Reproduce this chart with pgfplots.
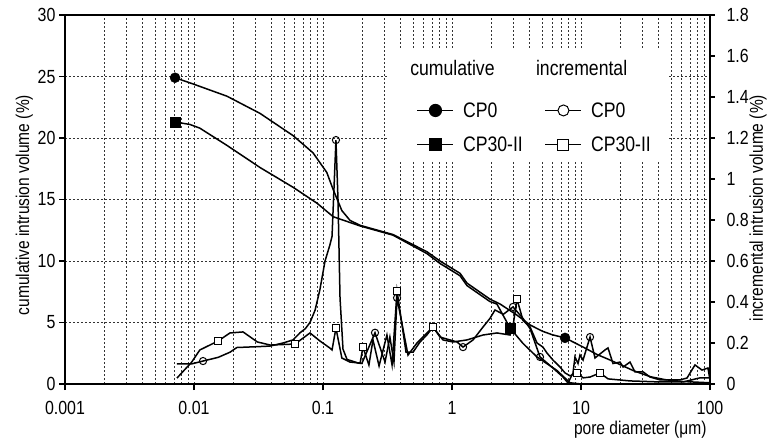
\documentclass[border=0pt]{standalone}
\usepackage{fontspec}
\setmainfont{Liberation Sans}[FakeStretch=0.84]
\usepackage{pgfplots}
\pgfplotsset{compat=1.18}

\pgfplotstableread{
x y
0.00713 24.9
0.0098 24.4
0.018 23.4
0.0325 22.0
0.0585 20.2
0.0836 18.8
0.107 17.2
0.12 15.8
0.14 14.1
0.162 13.3
0.194 12.9
0.349 12.15
0.64 10.75
0.807 10.0
1.154 9.0
1.307 8.2
1.97 6.9
2.36 6.5
3.19 5.6
4.03 4.8
5.0 4.3
6.0 4.0
7.52 3.75
10.4 3.0
13.3 2.4
16.8 1.95
25.3 1.1
34.3 0.6
45 0.35
61.8 0.2
100 0.1
}\cumA

\pgfplotstableread{
x y
0.00713 21.3
0.0093 21.1
0.0111 20.8
0.018 19.4
0.0325 17.6
0.0585 16.0
0.0898 14.7
0.12 13.6
0.194 12.85
0.349 12.1
0.64 10.6
0.807 9.8
1.154 8.8
1.307 8.0
1.97 6.7
2.23 6.5
2.82 4.55
3.55 3.3
4.56 2.2
6.51 1.1
8.22 0.1
10 0.0
100 0.0
}\cumB

\pgfplotstableread{
x y
0.00738 0.098
0.0096 0.098
0.01175 0.112
0.0154 0.13
0.019 0.155
0.0215 0.178
0.0308 0.182
0.0388 0.185
0.049 0.2
0.0585 0.215
0.0664 0.25
0.073 0.27
0.0793 0.3
0.0868 0.36
0.0946 0.46
0.1037 0.6
0.1133 0.68
0.1175 0.72
0.126 1.19
0.1307 0.9
0.1355 0.42
0.1429 0.17
0.1535 0.12
0.188 0.102
0.2 0.1
0.253 0.25
0.3026 0.107
0.33 0.229
0.355 0.107
0.375 0.42
0.456 0.141
0.535 0.2
0.585 0.224
0.713 0.278
0.807 0.229
0.964 0.215
1.094 0.205
1.217 0.18
1.456 0.215
1.74 0.278
1.97 0.32
2.155 0.361
2.5 0.34
2.97 0.376
3.55 0.32
4.03 0.27
4.81 0.132
6.06 0.078
7.25 0.034
7.93 0.005
8.67 0.054
8.98 0.132
9.48 0.1
9.82 0.141
10.37 0.117
11.75 0.229
12.84 0.127
15.35 0.166
16.19 0.176
17.7 0.1
20.06 0.107
21.2 0.083
24 0.107
26.2 0.059
30.3 0.059
34.3 0.034
41 0.02
58.5 0.02
66.3 0.029
76.5 0.093
86.7 0.068
96.4 0.078
100 0.02
}\incA

\pgfplotstableread{
x y
0.00738 0.029
0.0096 0.107
0.0111 0.166
0.0154 0.21
0.019 0.249
0.024 0.254
0.031 0.205
0.039 0.19
0.0607 0.195
0.0793 0.249
0.0946 0.21
0.1133 0.175
0.1175 0.166
0.126 0.273
0.14 0.127
0.162 0.107
0.194 0.102
0.204 0.18
0.227 0.093
0.244 0.215
0.272 0.088
0.313 0.239
0.343 0.093
0.375 0.454
0.44 0.156
0.5 0.156
0.565 0.205
0.64 0.24
0.713 0.278
0.851 0.215
1.018 0.205
1.307 0.215
1.74 0.239
2.23 0.249
2.82 0.239
3.0 0.3
3.19 0.415
3.55 0.31
4.03 0.278
4.56 0.2
5.07 0.18
5.45 0.151
6.06 0.117
6.87 0.083
7.52 0.054
8.22 0.04
9.31 0.054
10.4 0.03
11.75 0.034
14.04 0.054
16.2 0.025
24 0.015
41 0.01
62 0.01
83.6 0.03
100 0.03
}\incB

\begin{document}
\begin{tikzpicture}
\useasboundingbox (-65pt,-57pt) rectangle (702pt,384pt);
\begin{axis}[
  scale only axis, width=645pt, height=369pt, at={(0pt,0pt)}, anchor=south west,
  xmode=log, xmin=0.001, xmax=100,
  tick align=outside, major tick length=6pt, minor tick length=0pt,
  major tick style={black, line width=1.2pt},
  tick label style={font=\fontsize{19}{22}\selectfont},
  label style={font=\fontsize{18.5}{21}\selectfont},
  ymin=0, ymax=30, ytick={0,5,10,15,20,25,30},
  xtick={0.001,0.01,0.1,1,10,100},
  xticklabels={0.001,0.01,0.1,1,10,100},
  xticklabel style={yshift=-8pt},
  minor xtick={0.002,0.003,0.004,0.005,0.006,0.007,0.008,0.009,
    0.02,0.03,0.04,0.05,0.06,0.07,0.08,0.09,
    0.2,0.3,0.4,0.5,0.6,0.7,0.8,0.9,
    2,3,4,5,6,7,8,9,20,30,40,50,60,70,80,90},
  xtick pos=bottom, ytick pos=left,
  xmajorgrids, xminorgrids, ymajorgrids,
  major grid style={black!80, line width=0.6pt, dash pattern=on 2pt off 2pt},
  minor grid style={black!80, line width=0.6pt, dash pattern=on 2pt off 2pt},
  axis line style={black, line width=1.7pt},
  ylabel={cumulative intrusion volume (\%)},
  ylabel style={at={(axis description cs:-0.063,0.485)}, anchor=center},
  xlabel={pore diameter (μm)},
  xlabel style={at={(axis description cs:1,-0.124)}, anchor=east},
  yticklabel style={/pgf/number format/assume math mode=true},
]
\addplot[black, line width=1.5pt, no marks] table {\cumA};
\addplot[black, line width=1.5pt, no marks] table {\cumB};
\addplot[only marks, mark=*, mark size=5pt, black] coordinates {(0.00713,24.9) (7.52,3.75)};
\addplot[only marks, mark=square*, mark size=5.3pt, black] coordinates {(0.00713,21.3) (2.82,4.55)};
\fill[white] (axis description cs:0.499,0.905) rectangle (axis description cs:0.934,0.602);
\node[anchor=west, inner sep=0pt, font=\fontsize{21}{24}\selectfont] at (axis description cs:0.535,0.856) {cumulative};
\node[anchor=west, inner sep=0pt, font=\fontsize{21}{24}\selectfont] at (axis description cs:0.730,0.856) {incremental};
\end{axis}

\begin{axis}[
  scale only axis, width=645pt, height=369pt, at={(0pt,0pt)}, anchor=south west,
  xmode=log, xmin=0.001, xmax=100,
  tick align=outside, major tick length=5pt, minor tick length=0pt,
  major tick style={black, line width=1.2pt},
  tick label style={font=\fontsize{19}{22}\selectfont},
  label style={font=\fontsize{18.5}{21}\selectfont},
  ymin=0, ymax=1.8, ytick={0,0.2,0.4,0.6,0.8,1,1.2,1.4,1.6,1.8},
  hide x axis, axis y line*=right, ytick pos=right,
  yticklabel style={xshift=8pt, /pgf/number format/assume math mode=true},
  y axis line style={black, line width=1.7pt},
  ylabel={incremental intrusion volume (\%)},
  ylabel style={at={(axis description cs:1.0744,0.477)}, anchor=center},
  legend columns=2,
  legend style={at={(axis description cs:0.539,0.780)}, anchor=north west, draw=none, fill=none,
    font=\fontsize{21}{24}\selectfont, inner xsep=4pt, inner ysep=4pt, cells={anchor=west},
    /tikz/every odd column/.append style={column sep=7pt},
    /tikz/every even column/.append style={column sep=20pt}, row sep=14pt},
  legend image code/.code={\draw[mark repeat=2,mark phase=2,#1] plot coordinates {(0pt,0pt) (18pt,0pt) (36pt,0pt)};},
]
\addplot[black, line width=1.5pt, no marks, forget plot] table {\incA};
\addplot[black, line width=1.5pt, no marks, forget plot] table {\incB};
\addplot[only marks, mark=o, mark size=3.6pt, black, line width=1pt, mark options={fill=white}, forget plot]
  coordinates {(0.01175,0.112) (0.126,1.19) (0.253,0.25) (0.375,0.42) (0.713,0.278) (1.217,0.18) (2.97,0.376) (4.81,0.132) (11.75,0.229)};
\addplot[only marks, mark=square*, mark size=3.6pt, black, line width=1pt, mark options={fill=white}, forget plot]
  coordinates {(0.0154,0.21) (0.0607,0.195) (0.126,0.273) (0.204,0.18) (0.375,0.454) (0.713,0.278) (3.19,0.415) (9.31,0.054) (14.04,0.054)};
\addlegendimage{black, line width=1.2pt, mark=*, mark size=6pt}
\addlegendentry{CP0}
\addlegendimage{black, line width=1.2pt, mark=*, mark size=5.5pt, mark options={fill=white, line width=1pt}}
\addlegendentry{CP0}
\addlegendimage{black, line width=1.2pt, mark=square*, mark size=6pt}
\addlegendentry{CP30-II}
\addlegendimage{black, line width=1.2pt, mark=square*, mark size=5.5pt, mark options={fill=white, line width=1pt}}
\addlegendentry{CP30-II}
\end{axis}
\end{tikzpicture}
\end{document}
